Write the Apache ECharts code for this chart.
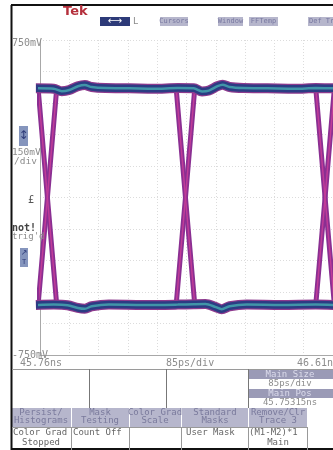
<!DOCTYPE html>
<html><head><meta charset="utf-8">
<script src="https://cdn.jsdelivr.net/npm/echarts@6/dist/echarts.min.js"></script>
<style>html,body{margin:0;padding:0;background:#fff}#c{width:333px;height:450px}</style>
</head><body><div id="c"></div>
<script>
// ---- axis settings (ps relative to 45.76 ns, mV) ----
const timeMin = 0, timeMax = 850, timeStep = 85;
const voltMin = -750, voltMax = 750, voltStep = 150;
const timeLabels = ['45.76ns', '85ps/div', '46.61ns'];
const voltLabels = ['750mV', '-750mV'];
// ---- eye diagram data ----
const highRail = [[-12,520],[40,518],[63,506],[85,512],[110,530],[130,536],[150,526],[190,521],[260,520],[330,518],[400,521],[446,520],[470,505],[490,509],[515,530],[530,537],[550,526],[590,521],[660,520],[740,518],[800,521],[860,520]];
const lowRail = [[-12,-512],[40,-510],[80,-513],[110,-526],[130,-530],[150,-518],[200,-510],[300,-512],[400,-510],[446,-508],[480,-507],[510,-522],[527,-532],[550,-518],[600,-510],[700,-512],[800,-510],[860,-512]];
const crossings = [21.5, 422, 827];
const edgeHalfWidth = 27;
const highLevel = 520, lowLevel = -511;

const series = [];
crossings.forEach(function (c) {
  const falling = [[c - edgeHalfWidth, highLevel], [c, 0], [c + edgeHalfWidth, lowLevel]];
  const rising = [[c - edgeHalfWidth, lowLevel], [c, 0], [c + edgeHalfWidth, highLevel]];
  [falling, rising].forEach(function (d) {
    series.push({type:'line', data:d, symbol:'none', clip:false, z:2, lineStyle:{color:'#8a2f92', width:5}});
    series.push({type:'line', data:d, symbol:'none', clip:false, z:3, lineStyle:{color:'#c03c98', width:1.5}});
  });
});
[highRail, lowRail].forEach(function (d) {
  series.push({type:'line', data:d, symbol:'none', smooth:0.3, clip:false, z:4, lineStyle:{color:'#8d3b8e', width:10}});
  series.push({type:'line', data:d, symbol:'none', smooth:0.3, clip:false, z:5, lineStyle:{color:'#2c3c84', width:7.5}});
  series.push({type:'line', data:d, symbol:'none', smooth:0.3, clip:false, z:6, lineStyle:{color:'#45a4ae', width:2.5, opacity:0.85}});
});

const mono = '"DejaVu Sans Mono", monospace';
const gray = '#8c8c8c';
function txt(x, y, s, opt) {
  opt = opt || {};
  return {type:'text', x:x, y:y, z:100, style:{text:s, font:(opt.bold?'bold ':'') + (opt.size||10) + 'px ' + (opt.family||mono), fill:opt.fill||gray, align:opt.align||'left', verticalAlign:'middle'}};
}
function rect(x, y, w, h, fill, stroke) {
  return {type:'rect', z:90, shape:{x:x, y:y, width:w, height:h}, style:{fill:fill, stroke:stroke||null, lineWidth:1}};
}
function line(x1, y1, x2, y2, color, w) {
  return {type:'line', z:95, shape:{x1:x1, y1:y1, x2:x2, y2:y2}, style:{stroke:color, lineWidth:w||1}};
}

const graphic = [
  // outer frame
  line(11, 5, 333, 5, '#111', 2),
  line(11.5, 5, 11.5, 450, '#111', 2),
  line(11, 449, 333, 449, '#111', 2),
  // top bar
  txt(63, 12, 'Tek', {bold:true, size:13, family:'"DejaVu Sans", sans-serif', fill:'#b5303c'}),
  rect(100, 17, 30, 9, '#2d3a78'),
  txt(115, 21.5, '⟷', {size:10, fill:'#ffffff', align:'center', family:'"DejaVu Sans", sans-serif'}),
  txt(133, 21.5, 'L', {size:9}),
  rect(160, 17, 28, 9, '#b6b6cc'), txt(174, 21.5, 'Cursors', {size:7, fill:'#7878a0', align:'center'}),
  rect(218, 17, 25, 9, '#b6b6cc'), txt(230.5, 21.5, 'Window', {size:7, fill:'#7878a0', align:'center'}),
  rect(249, 17, 29, 9, '#b6b6cc'), txt(263.5, 21.5, 'FFTemp', {size:7, fill:'#7878a0', align:'center'}),
  rect(308, 17, 30, 9, '#b6b6cc'), txt(309, 21.5, 'Def Tr', {size:7, fill:'#7878a0'}),
  // volt labels
  txt(12, 43, voltLabels[0]),
  txt(12, 355, voltLabels[1]),
  // left indicators
  rect(19, 126, 9, 20, '#8595bd'),
  txt(23.5, 136, '↕', {size:12, fill:'#2d3a78', align:'center', family:'"DejaVu Sans", sans-serif'}),
  txt(12, 153, '150mV', {size:9.5}),
  txt(14, 162, '/div', {size:9.5}),
  txt(28, 200, '£', {size:10, fill:'#555'}),
  txt(12, 228, 'not!', {bold:true, fill:'#444'}),
  txt(12, 237, "trig'd", {size:9}),
  rect(20, 248, 8, 19, '#8595bd'),
  txt(24, 253, '↗', {size:8, fill:'#2d3a78', align:'center', family:'"DejaVu Sans", sans-serif'}),
  txt(24, 262, 'T', {size:7, fill:'#2d3a78', align:'center'}),
  // time labels
  txt(20, 363, timeLabels[0]),
  txt(166, 363, timeLabels[1]),
  txt(297, 363, timeLabels[2]),
  // bottom panel
  line(12, 369.5, 333, 369.5, '#9a9a9a', 1),
  line(89.5, 369, 89.5, 408, '#777', 1),
  line(166.5, 369, 166.5, 408, '#777', 1),
  line(248.5, 369, 248.5, 408, '#777', 1),
  rect(249, 370, 84, 9, '#9a9ab6'), txt(290, 374.5, 'Main Size', {size:9, fill:'#dcdcec', align:'center'}),
  txt(290, 384, '85ps/div', {size:9, align:'center'}),
  rect(249, 389, 84, 9, '#9a9ab6'), txt(290, 393.5, 'Main Pos', {size:9, fill:'#dcdcec', align:'center'}),
  txt(290, 403, '45.75315ns', {size:9, align:'center'}),
  rect(12, 408, 295, 19, '#b6b6cc'),
  line(71.5, 408, 71.5, 450, '#ffffff', 1),
  line(129.5, 408, 129.5, 450, '#ffffff', 1),
  line(181.5, 408, 181.5, 450, '#ffffff', 1),
  line(248.5, 408, 248.5, 450, '#ffffff', 1),
  line(71.5, 427, 71.5, 450, '#999', 1),
  line(129.5, 427, 129.5, 450, '#999', 1),
  line(181.5, 427, 181.5, 450, '#999', 1),
  line(248.5, 427, 248.5, 450, '#999', 1),
  line(307.5, 427, 307.5, 450, '#999', 1),
  line(12, 427.5, 307, 427.5, '#999', 1),
  txt(41, 413, 'Persist/', {size:9, fill:'#7a7a9c', align:'center'}),
  txt(41, 421, 'Histograms', {size:9, fill:'#7a7a9c', align:'center'}),
  txt(100, 413, 'Mask', {size:9, fill:'#7a7a9c', align:'center'}),
  txt(100, 421, 'Testing', {size:9, fill:'#7a7a9c', align:'center'}),
  txt(155, 413, 'Color Grad', {size:9, fill:'#7a7a9c', align:'center'}),
  txt(155, 421, 'Scale', {size:9, fill:'#7a7a9c', align:'center'}),
  txt(215, 413, 'Standard', {size:9, fill:'#7a7a9c', align:'center'}),
  txt(215, 421, 'Masks', {size:9, fill:'#7a7a9c', align:'center'}),
  txt(278, 413, 'Remove/Clr', {size:9, fill:'#7a7a9c', align:'center'}),
  txt(278, 421, 'Trace 3', {size:9, fill:'#7a7a9c', align:'center'}),
  txt(13, 433, 'Color Grad', {size:9, fill:'#666'}),
  txt(41, 443, 'Stopped', {size:9, fill:'#666', align:'center'}),
  txt(73, 433, 'Count Off', {size:9, fill:'#666'}),
  txt(186, 433, 'User Mask', {size:9, fill:'#666'}),
  txt(249, 433, '(M1-M2)*1', {size:9, fill:'#666'}),
  txt(278, 443, 'Main', {size:9, fill:'#666', align:'center'})
];

const chart = echarts.init(document.getElementById('c'), null, {renderer:'canvas'});
chart.setOption({
  animation:false,
  backgroundColor:'#ffffff',
  grid:{left:40, top:40, width:295, height:315, containLabel:false},
  xAxis:{type:'value', min:timeMin, max:timeMax, interval:timeStep,
    axisLine:{show:true, onZero:false, lineStyle:{color:'#a8a8a8', width:1}},
    axisTick:{show:false}, axisLabel:{show:false},
    splitLine:{show:true, lineStyle:{color:'#dcdcdc', type:[1,2], width:1}}},
  yAxis:{type:'value', min:voltMin, max:voltMax, interval:voltStep,
    axisLine:{show:true, onZero:false, lineStyle:{color:'#a8a8a8', width:1}},
    axisTick:{show:false}, axisLabel:{show:false},
    splitLine:{show:true, lineStyle:{color:'#dcdcdc', type:[1,2], width:1}}},
  series:series,
  graphic:graphic
});
</script>
</body></html>
